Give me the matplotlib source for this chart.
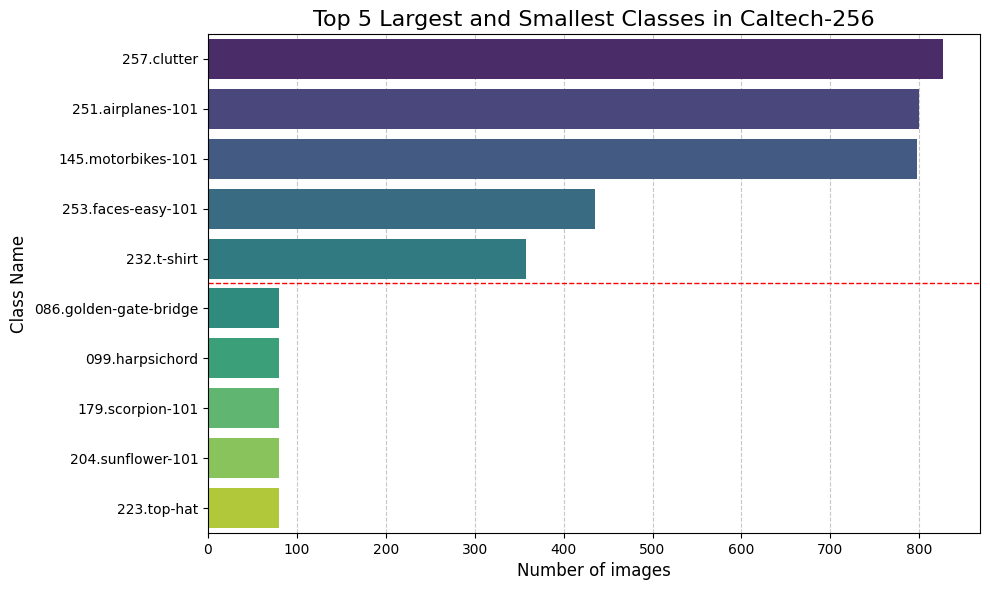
import matplotlib
matplotlib.use("Agg")
import matplotlib.pyplot as plt
import seaborn as sns
import pandas as pd

classes = ["257.clutter", "251.airplanes-101", "145.motorbikes-101", "253.faces-easy-101",
           "232.t-shirt", "086.golden-gate-bridge", "099.harpsichord", "179.scorpion-101",
           "204.sunflower-101", "223.top-hat"]
counts = [827, 800, 798, 435, 358, 80, 80, 80, 80, 80]

df = pd.DataFrame({"Class Name": classes, "Number of images": counts})

fig, ax = plt.subplots(figsize=(9.9, 5.9), dpi=100)
sns.barplot(data=df, x="Number of images", y="Class Name", hue="Class Name",
            palette="viridis", legend=False, ax=ax)
ax.axhline(4.5, color="red", linestyle="--", linewidth=1)
ax.grid(axis="x", linestyle="--", alpha=0.7)
ax.set_axisbelow(True)
ax.set_title("Top 5 Largest and Smallest Classes in Caltech-256", fontsize=16)
ax.set_xlabel("Number of images", fontsize=12)
ax.set_ylabel("Class Name", fontsize=12)
fig.subplots_adjust(left=208/990, right=980/990, top=1-34/590, bottom=1-533/590)
fig.savefig("out.png", dpi=100)
